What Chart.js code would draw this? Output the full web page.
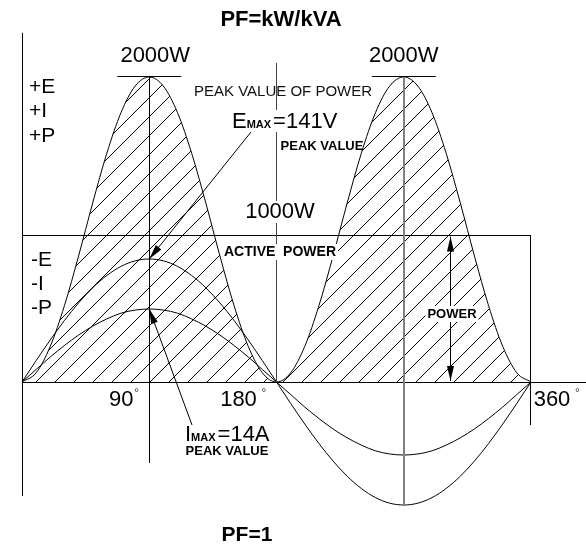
<!DOCTYPE html>
<html>
<head>
<meta charset="utf-8">
<script src="https://cdn.jsdelivr.net/npm/chart.js@4"></script>
<style>
html,body{margin:0;padding:0;background:#fff;}
#wrap{width:586px;height:546px;position:relative;}
</style>
</head>
<body>
<div id="wrap"><canvas id="c"></canvas></div>
<script>
// ---- data ----
const angles   = [0,10,20,30,40,50,60,70,80,90,100,110,120,130,140,150,160,170,180,
                  190,200,210,220,230,240,250,260,270,280,290,300,310,320,330,340,350,360];
const powerW   = [0,60,234,500,826,1174,1500,1766,1940,2000,1940,1766,1500,1174,826,500,234,60,0,
                  60,234,500,826,1174,1500,1766,1940,2000,1940,1766,1500,1174,826,500,234,60,0];
const voltageV = [0,24.5,48.2,70.5,90.6,108,122.1,132.5,138.9,141,138.9,132.5,122.1,108,90.6,70.5,48.2,24.5,0,
                  -24.5,-48.2,-70.5,-90.6,-108,-122.1,-132.5,-138.9,-141,-138.9,-132.5,-122.1,-108,-90.6,-70.5,-48.2,-24.5,0];
const currentA = [0,2.4,4.8,7,9,10.7,12.1,13.2,13.8,14,13.8,13.2,12.1,10.7,9,7,4.8,2.4,0,
                  -2.4,-4.8,-7,-9,-10.7,-12.1,-13.2,-13.8,-14,-13.8,-13.2,-12.1,-10.7,-9,-7,-4.8,-2.4,0];
const degreeTicks = [90,180,360];
const peakPowerW  = 2000;
const activePowerW = 960;   // level of the "1000W" line as drawn
const peakAngles  = [90,270];

// ---- helpers ----
const FONT = '"Liberation Sans", Arial, sans-serif';
const ctx0 = document.getElementById('c').getContext('2d');
function makeHatch(){
  const s = 19;
  const c = document.createElement('canvas');
  c.width = s; c.height = s;
  const g = c.getContext('2d');
  g.strokeStyle = '#000'; g.lineWidth = 1;
  g.beginPath();
  g.moveTo(0,s); g.lineTo(s,0);
  g.moveTo(-3,3); g.lineTo(3,-3);
  g.moveTo(s-3,s+3); g.lineTo(s+3,s-3);
  g.stroke();
  return ctx0.createPattern(c,'repeat');
}
const hatch = makeHatch();
const pts = arr => angles.map((a,i)=>({x:a,y:arr[i]}));

const datasets = [
  {data:pts(powerW), yAxisID:'yP', borderColor:'#000', borderWidth:1, backgroundColor:hatch,
   fill:'origin', pointRadius:0, cubicInterpolationMode:'monotone'},
  {data:pts(voltageV), yAxisID:'yE', borderColor:'#000', borderWidth:1, fill:false,
   pointRadius:0, cubicInterpolationMode:'monotone'},
  {data:pts(currentA), yAxisID:'yI', borderColor:'#000', borderWidth:1, fill:false,
   pointRadius:0, cubicInterpolationMode:'monotone'},
];

// guide lines in data units (degrees, watts): [x1,y1,x2,y2,color,width]
const guides = [
  [0,0,400,0],                         // zero line
  [0,2290,0,-748],                     // left axis
  [0,activePowerW,360,activePowerW],   // active power line
  [360,activePowerW,360,-282],         // 360° line
  [90,peakPowerW,90,-531],             // 90° line
  [180,2092,180,0,'#444'],             // 180° line
  [270,peakPowerW,270,-813,'#808080',2], // 270° line
  [peakAngles[0]-22.6,peakPowerW,peakAngles[0]+22.6,peakPowerW],
  [peakAngles[1]-22.6,peakPowerW,peakAngles[1]+22.6,peakPowerW],
];

function arrowHead(ctx,x1,y1,x2,y2,len,hw){
  const a = Math.atan2(y2-y1,x2-x1);
  ctx.beginPath();
  ctx.moveTo(x2,y2);
  ctx.lineTo(x2-len*Math.cos(a)+hw*Math.sin(a), y2-len*Math.sin(a)-hw*Math.cos(a));
  ctx.lineTo(x2-len*Math.cos(a)-hw*Math.sin(a), y2-len*Math.sin(a)+hw*Math.cos(a));
  ctx.closePath(); ctx.fill();
}
function arrow(ctx,x1,y1,x2,y2,both){
  ctx.beginPath(); ctx.moveTo(x1,y1); ctx.lineTo(x2,y2); ctx.stroke();
  arrowHead(ctx,x1,y1,x2,y2,15,3.5);
  if(both) arrowHead(ctx,x2,y2,x1,y1,15,3.5);
}
function label(ctx,s,x,y,font,opt){
  opt = opt||{};
  ctx.font = font;
  ctx.textAlign = opt.align||'center';
  ctx.textBaseline = 'middle';
  if(opt.bg){
    const w = ctx.measureText(s).width;
    const h = opt.h||16;
    let lx = opt.align==='left' ? x : x-w/2;
    ctx.fillStyle = '#fff';
    ctx.fillRect(lx-2, y-h/2, w+4, h);
  }
  ctx.fillStyle = opt.color||'#000';
  ctx.fillText(s,x,y);
}
function maxLabel(ctx,big,rest,x,baseY,bg){
  const fb = '22px '+FONT, fs = 'bold 11px '+FONT;
  ctx.font = fb; const w1 = ctx.measureText(big).width;
  ctx.font = fs; const w2 = ctx.measureText('MAX').width;
  ctx.font = fb; const w3 = ctx.measureText(rest).width;
  if(bg){ ctx.fillStyle='#fff'; ctx.fillRect(x-2, baseY-18, w1+w2+w3+6, 22); }
  ctx.fillStyle = '#000'; ctx.textBaseline='alphabetic'; ctx.textAlign='left';
  ctx.font = fb; ctx.fillText(big,x,baseY);
  ctx.font = fs; ctx.fillText('MAX',x+w1,baseY);
  ctx.font = fb; ctx.fillText(rest,x+w1+w2+2,baseY);
}
const snap = v => Math.floor(v)+0.5;

const overlay = {
  id:'overlay',
  afterDatasetsDraw(chart){
    const ctx = chart.ctx;
    const X = chart.scales.x, P = chart.scales.yP, E = chart.scales.yE, I = chart.scales.yI;
    ctx.save();
    // guides
    guides.forEach(g=>{
      ctx.strokeStyle = g[4]||'#000'; ctx.lineWidth = g[5]||1;
      let x1 = X.getPixelForValue(g[0]), y1 = P.getPixelForValue(g[1]);
      let x2 = X.getPixelForValue(g[2]), y2 = P.getPixelForValue(g[3]);
      if((g[5]||1)===1){
        if(g[0]===g[2]){ x1 = x2 = snap(x1); }
        if(g[1]===g[3]){ y1 = y2 = snap(y1); }
      } else { x1 = x2 = Math.round(x1); }
      ctx.beginPath(); ctx.moveTo(x1,y1); ctx.lineTo(x2,y2); ctx.stroke();
    });
    ctx.strokeStyle = '#000'; ctx.fillStyle = '#000'; ctx.lineWidth = 1;
    // arrows to the peaks
    arrow(ctx, 251,132, X.getPixelForValue(90), E.getPixelForValue(141));
    arrow(ctx, 192,425, X.getPixelForValue(90), I.getPixelForValue(14));
    // power double arrow
    const ax = snap(X.getPixelForValue(303));
    arrow(ctx, ax, P.getPixelForValue(0)-1, ax, P.getPixelForValue(activePowerW)+1, true);

    // texts
    label(ctx,'PF=kW/kVA',281,20,'bold 22px '+FONT);
    label(ctx,'PF=1',247,535,'bold 21px '+FONT);
    const big = '22px '+FONT;
    label(ctx,'2000W',X.getPixelForValue(peakAngles[0])+6,56,big);
    label(ctx,'2000W',X.getPixelForValue(peakAngles[1]),56,big);
    ['+E','+I','+P'].forEach((s,i)=>label(ctx,s,29,87+i*24.5,'21px '+FONT,{align:'left'}));
    ['-E','-I','-P'].forEach((s,i)=>label(ctx,s,31,260+i*24,'21px '+FONT,{align:'left'}));
    label(ctx,'PEAK VALUE OF POWER',283,92,'15px '+FONT,{color:'#111'});
    maxLabel(ctx,'E','=141V',232,128,true);
    label(ctx,'PEAK VALUE',322,146,'bold 13px '+FONT);
    label(ctx,'1000W',280,212,big,{bg:true,h:22});
    label(ctx,'ACTIVE  POWER',280,252,'bold 14px '+FONT,{bg:true,h:16});
    label(ctx,'POWER',452,314,'bold 13px '+FONT,{bg:true,h:16});
    maxLabel(ctx,'I','=14A',185,441,false);
    label(ctx,'PEAK VALUE',227,451,'bold 13px '+FONT);
    // degree tick labels
    const tickOff = {90:-28, 180:-38, 360:21};
    degreeTicks.forEach(d=>{
      const px = X.getPixelForValue(d);
      label(ctx,String(d),px+tickOff[d],400,big);
      ctx.font = '12px '+FONT; ctx.textAlign='left'; ctx.textBaseline='alphabetic';
      ctx.fillStyle = '#333';
      const dx = {90:-15,180:-15,360:44}[d];
      ctx.fillText('\u00B0', px+dx, 397);
    });
    ctx.restore();
  }
};

new Chart(document.getElementById('c'),{
  type:'line',
  data:{datasets},
  options:{
    responsive:true, maintainAspectRatio:false, animation:false, events:[],
    layout:{padding:0},
    scales:{
      x:{type:'linear', display:false, min:-15.56, max:398.9},
      yP:{type:'linear', display:false, min:-1075.4, max:2504.9},
      yE:{type:'linear', display:false, min:-188.0, max:437.9},
      yI:{type:'linear', display:false, min:-31.45, max:73.26}
    },
    plugins:{legend:{display:false}, tooltip:{enabled:false}, title:{display:false}}
  },
  plugins:[overlay]
});
</script>
</body>
</html>
